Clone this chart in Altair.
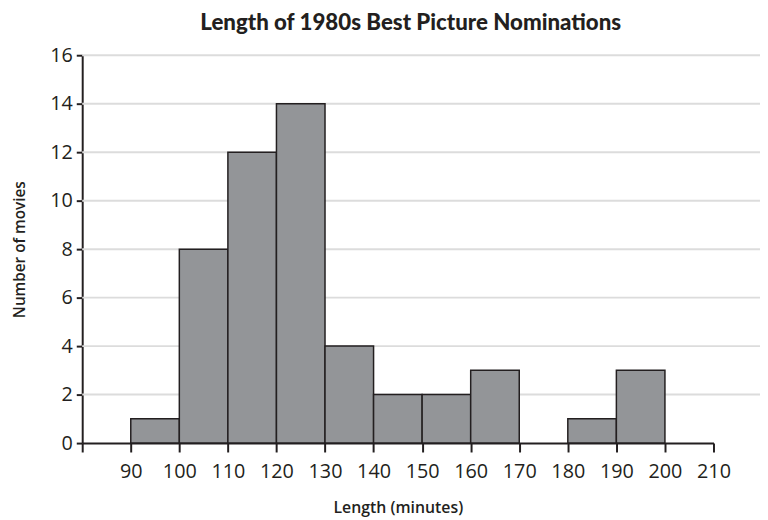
import altair as alt
import pandas as pd

bin_start = [90, 100, 110, 120, 130, 140, 150, 160, 180, 190]
bin_end = [100, 110, 120, 130, 140, 150, 160, 170, 190, 200]
counts = [1, 8, 12, 14, 4, 2, 2, 3, 1, 3]
x_ticks = [80, 90, 100, 110, 120, 130, 140, 150, 160, 170, 180, 190, 200, 210]
y_ticks = [0, 2, 4, 6, 8, 10, 12, 14, 16]

bars_df = pd.DataFrame({"start": bin_start, "end": bin_end, "count": counts})
grid_df = pd.DataFrame({"count": y_ticks[1:]})

INK = "#231f20"
W, H = 638, 392

xscale = alt.Scale(domain=[80, 210], nice=False, zero=False)
yscale = alt.Scale(domain=[0, 16], nice=False)
yaxis = alt.Axis(
    values=y_ticks,
    title="Number of movies",
    grid=False,
    titleX=-63,
    titleBaseline="middle",
    titleFontSize=15.5,
)

grid = alt.Chart(grid_df).mark_rule(color="#dcdcdc", strokeWidth=2).encode(
    y=alt.Y("count:Q", scale=yscale, axis=yaxis),
    x=alt.value(0),
    x2=alt.value(W + 47),
)

bars = alt.Chart(bars_df).mark_rect(
    fill="#939598", stroke=INK, strokeWidth=1.5
).encode(
    x=alt.X(
        "start:Q",
        scale=xscale,
        axis=alt.Axis(
            values=x_ticks,
            labelExpr="datum.value == 80 ? '' : datum.label",
            title="Length (minutes)",
            titleX=W / 2,
            titleY=70,
            titleBaseline="alphabetic",
            grid=False,
        ),
    ),
    x2="end:Q",
    y=alt.Y("count:Q", scale=yscale, axis=yaxis),
    y2=alt.datum(0),
)

chart = (
    alt.layer(grid, bars)
    .properties(
        width=W,
        height=H,
        autosize=alt.AutoSizeParams(type="none"),
        padding={"left": 75, "top": 45, "right": 47, "bottom": 73},
        title=alt.Title(
            "Length of 1980s Best Picture Nominations",
            font="Lato",
            fontSize=22.5,
            fontWeight=900,
            color=INK,
            anchor="middle",
            frame="group",
            dx=13,
            offset=11,
        ),
    )
    .configure_view(stroke=None)
    .configure_axis(
        domainColor=INK,
        domainWidth=2,
        tickColor=INK,
        tickWidth=2,
        labelFont="Open Sans",
        labelFontSize=20,
        labelColor=INK,
        labelFlush=False,
        titleFont="Open Sans",
        titleFontSize=16,
        titleFontWeight=600,
        titleColor=INK,
    )
    .configure_axisX(tickSize=9, labelPadding=10)
    .configure_axisY(tickSize=6, labelPadding=4)
)

chart.save("out.html", embed_options={"renderer": "svg", "actions": False})
